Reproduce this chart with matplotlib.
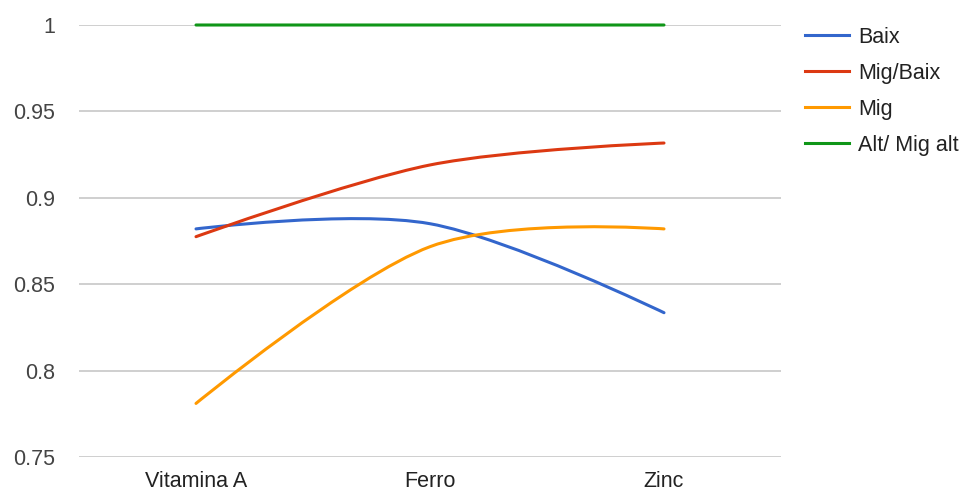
import matplotlib
matplotlib.use("Agg")
import matplotlib.pyplot as plt
from matplotlib.path import Path
from matplotlib.patches import PathPatch
from matplotlib.lines import Line2D

plt.rcParams['font.family'] = ['Liberation Sans', 'DejaVu Sans']

# Data
categories = ["Vitamina A", "Ferro", "Zinc"]
baix = [0.882, 0.885, 0.8335]
mig_baix = [0.8775, 0.919, 0.9317]
mig = [0.781, 0.8717, 0.882]
alt_mig_alt = [1.0, 1.0, 1.0]

series_names = ["Baix", "Mig/Baix", "Mig", "Alt/ Mig alt"]
series_values = [baix, mig_baix, mig, alt_mig_alt]
colors = ["#3366cc", "#dc3912", "#ff9900", "#109618"]


def smooth_path(xs, ys):
    # cubic bezier through the points, tangent like google's "function" curve
    n = len(xs)
    tan = []
    for i in range(n):
        if i == 0 or i == n - 1:
            tan.append((0.0, 0.0))
        else:
            tan.append(((xs[i + 1] - xs[i - 1]) / 2, (ys[i + 1] - ys[i - 1]) / 2))
    verts = [(xs[0], ys[0])]
    codes = [Path.MOVETO]
    for i in range(n - 1):
        c1 = (xs[i] + tan[i][0] / 3, ys[i] + tan[i][1] / 3)
        c2 = (xs[i + 1] - tan[i + 1][0] / 3, ys[i + 1] - tan[i + 1][1] / 3)
        verts += [c1, c2, (xs[i + 1], ys[i + 1])]
        codes += [Path.CURVE4] * 3
    return Path(verts, codes)


fig = plt.figure(figsize=(9.68, 4.92), dpi=100)
ax = fig.add_axes([79 / 968, 1 - 457 / 492, (781 - 79) / 968, (457 - 25) / 492])

x = list(range(len(categories)))
for vals, col in zip(series_values, colors):
    patch = PathPatch(smooth_path(x, vals), facecolor="none", edgecolor=col,
                      linewidth=2.2, capstyle="round", clip_on=False, zorder=3)
    ax.add_patch(patch)

ax.set_xlim(-0.5, 2.5)
ax.set_ylim(0.75, 1.0)
ax.set_yticks([0.75, 0.8, 0.85, 0.9, 0.95, 1.0])
ax.set_yticklabels(["0.75", "0.8", "0.85", "0.9", "0.95", "1"])
ax.set_xticks(x)
ax.set_xticklabels(categories)
ax.grid(axis="y", color="#cccccc", linewidth=1.3)
ax.set_axisbelow(True)
for s in ax.spines.values():
    s.set_visible(False)
ax.tick_params(axis="y", length=0, pad=17, labelsize=15.5, labelcolor="#444444")
ax.tick_params(axis="x", length=0, pad=10, labelsize=15.5, labelcolor="#222222")

handles = [Line2D([], [], color=c, linewidth=2.2) for c in colors]
fig.legend(handles, series_names, loc="upper left", bbox_to_anchor=(805 / 968, 1 - 27 / 492),
           frameon=False, fontsize=15.5, handlelength=2.05, handletextpad=0.42,
           labelspacing=0.69, borderpad=0, borderaxespad=0, labelcolor="#222222")

fig.savefig("out.png", dpi=100)
